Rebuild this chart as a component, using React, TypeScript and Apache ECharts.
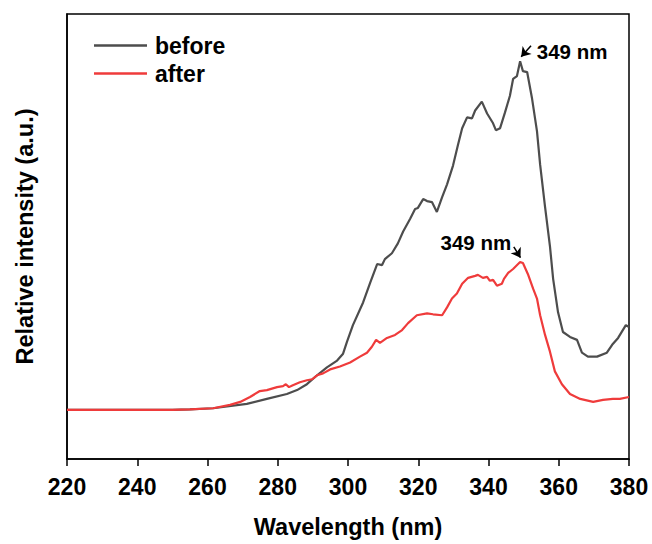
import React, { useEffect, useRef } from "react";
import * as echarts from "echarts";

const xTicks = [220, 240, 260, 280, 300, 320, 340, 360, 380];

const beforeX = [220, 250, 255, 261.6, 271.2, 276.9, 282.6, 285.5, 288.3, 291.2, 294.0, 296.9, 298.6, 299.7, 301.4, 304.3, 306.3, 308.3, 309.7, 310.5, 312.5, 314.2, 315.7, 317.7, 319.1, 319.9, 321.4, 322.5, 323.9, 325.3, 326.8, 328.2, 329.9, 331.3, 332.5, 333.9, 335.3, 336.2, 338.1, 339.6, 341.3, 342.1, 343.3, 344.7, 346.1, 347.0, 348.1, 349.0, 349.8, 351.0, 352.4, 353.8, 354.7, 356.1, 357.5, 358.4, 359.8, 361.2, 363.2, 365.2, 366.6, 368.3, 370.9, 373.7, 375.2, 376.9, 379.1, 380];
const beforeY = [11.06, 11.06, 11.15, 11.4, 12.39, 13.5, 14.6, 15.49, 16.81, 18.81, 20.58, 22.12, 23.67, 26.33, 30.09, 35.18, 39.6, 43.81, 43.58, 44.91, 46.24, 48.45, 51.11, 53.98, 56.19, 56.42, 58.41, 57.96, 57.74, 55.53, 58.85, 61.73, 65.93, 70.58, 74.34, 76.77, 76.55, 78.32, 80.31, 77.65, 75.44, 73.89, 74.34, 77.88, 81.64, 85.4, 86.06, 89.38, 87.17, 86.95, 81.0, 73.67, 66.15, 56.64, 47.79, 40.49, 32.96, 28.54, 27.43, 26.77, 23.89, 23.01, 23.01, 23.89, 25.66, 27.21, 30.09, 29.65];

const afterX = [220, 250, 255, 261.6, 266.4, 269.3, 272.1, 274.9, 276.9, 279.8, 281.5, 282.3, 283.2, 284.3, 286.3, 288.3, 289.8, 291.2, 292.9, 294.9, 297.7, 300.6, 303.4, 305.4, 306.8, 308.0, 309.1, 311.1, 313.4, 315.4, 317.1, 319.6, 322.5, 324.2, 326.8, 328.2, 329.6, 331.0, 332.5, 334.2, 336.2, 337.0, 338.4, 339.6, 340.4, 341.3, 342.4, 343.8, 344.4, 345.6, 347.0, 349.0, 349.8, 351.2, 352.7, 353.8, 354.7, 356.1, 357.5, 358.9, 360.9, 363.2, 366.1, 369.8, 372.6, 375.4, 377.4, 380];
const afterY = [11.06, 11.06, 11.15, 11.4, 12.17, 12.83, 13.94, 15.27, 15.49, 16.15, 16.37, 16.81, 16.15, 16.59, 17.26, 17.7, 17.92, 18.81, 19.25, 20.13, 20.8, 21.68, 23.01, 23.89, 25.22, 26.77, 26.11, 27.21, 27.88, 28.98, 30.53, 32.3, 32.74, 32.52, 32.3, 34.07, 36.06, 37.17, 39.38, 40.71, 41.15, 41.37, 40.71, 40.93, 40.04, 40.27, 38.94, 39.38, 40.49, 41.81, 42.7, 44.25, 44.03, 41.59, 38.27, 36.06, 32.3, 27.88, 24.12, 19.69, 16.81, 14.6, 13.5, 12.83, 13.27, 13.5, 13.5, 13.94];

const seriesNames = ["before", "after"];
const peakLabel = "349 nm";
const peakWl = 349;
const beforePeak = 89.38;
const afterPeak = 44.25;

const FONT = "'Liberation Sans', Arial, Helvetica, sans-serif";

export default function App() {
  const ref = useRef<HTMLDivElement>(null);
  useEffect(() => {
    if (!ref.current) return;
    const chart = echarts.init(ref.current, null, { renderer: "svg" });
    const zip = (xs: number[], ys: number[]) => xs.map((x, i) => [x, ys[i]]);
    const labelStyle = { color: "#000", fontFamily: FONT, fontWeight: "bold" as const };
    chart.setOption({
      animation: false,
      backgroundColor: "#fff",
      grid: { left: 67, right: 23, top: 14, bottom: 78, show: true, borderColor: "#000", borderWidth: 1.5, backgroundColor: "transparent" },
      legend: {
        orient: "vertical",
        left: 89,
        top: 29,
        icon: "rect",
        itemWidth: 53,
        itemHeight: 2.5,
        itemGap: 5,
        textStyle: { ...labelStyle, fontSize: 23, padding: [0, 0, 0, 3] },
        data: seriesNames,
      },
      xAxis: {
        type: "value",
        min: 220,
        max: 380,
        interval: 20,
        name: "Wavelength (nm)",
        nameLocation: "middle",
        nameGap: 56,
        nameTextStyle: { ...labelStyle, fontSize: 23.5 },
        axisLine: { show: true, lineStyle: { color: "#000", width: 1.5 } },
        axisTick: { show: true, length: 7, lineStyle: { color: "#000", width: 1.5 } },
        axisLabel: { ...labelStyle, fontSize: 23, margin: 16, formatter: (v: number) => (xTicks.includes(v) ? String(v) : "") },
        splitLine: { show: false },
      },
      yAxis: {
        type: "value",
        min: 0,
        max: 100,
        name: "Relative intensity (a.u.)",
        nameLocation: "middle",
        nameGap: 30,
        nameTextStyle: { ...labelStyle, fontSize: 23.5 },
        axisLine: { show: true, lineStyle: { color: "#000", width: 1.5 } },
        axisTick: { show: false },
        axisLabel: { show: false },
        splitLine: { show: false },
      },
      series: [
        {
          name: seriesNames[0],
          type: "line",
          data: zip(beforeX, beforeY),
          symbol: "none",
          lineStyle: { color: "#4d4d4d", width: 2.2 },
          itemStyle: { color: "#4d4d4d" },
          markLine: {
            silent: true,
            symbol: ["none", "arrow"],
            symbolSize: 9,
            label: { show: false },
            lineStyle: { color: "#000", width: 1.5, type: "solid" },
            data: [[{ coord: [peakWl + 3.1, beforePeak + 3.5] }, { coord: [peakWl + 0.3, beforePeak + 1.0] }]],
          },
          markPoint: {
            symbol: "circle",
            symbolSize: 1,
            itemStyle: { color: "rgba(0,0,0,0)" },
            label: { show: true, position: "inside", formatter: peakLabel, ...labelStyle, fontSize: 20.5 },
            data: [{ coord: [363.8, 91.6] }],
          },
        },
        {
          name: seriesNames[1],
          type: "line",
          data: zip(afterX, afterY),
          symbol: "none",
          lineStyle: { color: "#ef3b3b", width: 2.2 },
          itemStyle: { color: "#ef3b3b" },
          markLine: {
            silent: true,
            symbol: ["none", "arrow"],
            symbolSize: 9,
            label: { show: false },
            lineStyle: { color: "#000", width: 1.5, type: "solid" },
            data: [[{ coord: [peakWl - 1.8, afterPeak + 3.4] }, { coord: [peakWl + 0.1, afterPeak + 1.0] }]],
          },
          markPoint: {
            symbol: "circle",
            symbolSize: 1,
            itemStyle: { color: "rgba(0,0,0,0)" },
            label: { show: true, position: "inside", formatter: peakLabel, ...labelStyle, fontSize: 20.5 },
            data: [{ coord: [336.4, 48.7] }],
          },
        },
      ],
    });
    return () => chart.dispose();
  }, []);
  return <div ref={ref} style={{ position: "fixed", left: 0, top: 0, width: 652, height: 544 }} />;
}
